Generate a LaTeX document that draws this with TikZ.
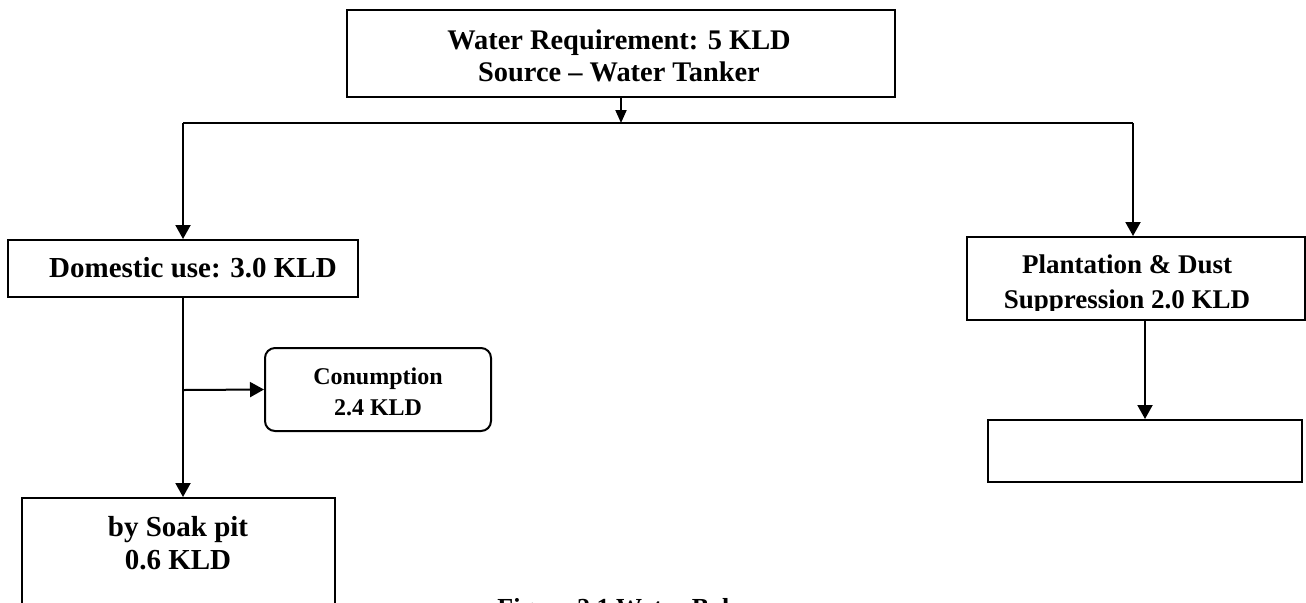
\documentclass[tikz,border=0pt]{standalone}
\usepackage{fontspec}
\setmainfont{Liberation Serif}
\usetikzlibrary{arrows.meta}
\tikzset{
  box/.style={draw, line width=1pt, rectangle, inner sep=0pt},
  roundbox/.style={box, rounded corners=5pt},
  txt/.style={inner sep=0pt, align=center, font=\bfseries\fontsize{14.5}{16.5}\selectfont},
  smalltxt/.style={txt, font=\bfseries\fontsize{12}{15.8}\selectfont},
  flow/.style={line width=1pt, -{Triangle[length=7pt,width=7.5pt]}},
  smallflow/.style={line width=1pt, -{Triangle[length=6.5pt,width=5.5pt]}},
}

\begin{document}
\begin{tikzpicture}[x=0.5pt, y=-0.5pt]
    \useasboundingbox (0,0) rectangle (1306,602);

    % boxes
    \node [box, minimum width=274pt, minimum height=43.5pt] (req) at (621,53.5) {};
    \node [txt, font=\bfseries\fontsize{14.2}{16}\selectfont] (reqtxt) at (619,56)
      {Water Requirement: 5 KLD\\Source -- Water Tanker};
    \node [box, minimum width=175pt, minimum height=28.5pt] (dom) at (183,268.5) {};
    \node [txt] (domtxt) at (193,268) {Domestic use: 3.0 KLD};
    \node [roundbox, minimum width=113pt, minimum height=41.5pt] (cons) at (378,389.5) {};
    \node [smalltxt] (constxt) at (378,392) {Conumption\\2.4 KLD};
    \node [box, minimum width=156.5pt, minimum height=70pt, anchor=north] (soak) at (178.5,497) {};
    \node [txt, font=\bfseries\fontsize{14.5}{16.3}\selectfont] (soaktxt) at (178,543) {by Soak pit\\0.6 KLD};
    \node [box, minimum width=169pt, minimum height=41.5pt] (plant) at (1136,278.5) {};
    \begin{scope}
      \clip (967,237) rectangle (1305,310);
      \node [txt, font=\bfseries\fontsize{13.5}{17.5}\selectfont] (planttxt) at (1127,284)
        {Plantation \& Dust\\Suppression 2.0 KLD};
    \end{scope}
    \node [box, minimum width=157pt, minimum height=31pt] (empty) at (1145,451) {};

    % connectors
    \coordinate (jl) at (183,123);
    \coordinate (jr) at (1133,123);
    \coordinate (br) at (183,390);
    \draw [smallflow] (req.south) -- (req.south |- jl);
    \draw [line width=1pt] (jl) -- (jr);
    \draw [flow] (jl) -- (dom.north);
    \draw [flow] (jr) -- (jr |- plant.north);
    \draw [flow] (dom.south) -- (dom.south |- soak.north);
    \draw [flow] (br) -- (cons.west);
    \draw [flow] (empty.north |- plant.south) -- (empty.north);

    % caption, cut by the page
    \node [anchor=base west, inner sep=0pt, font=\bfseries\fontsize{13}{15}\selectfont] (cap) at (497,616)
      {Figure 2.1 Water Balance};
\end{tikzpicture}
\end{document}
